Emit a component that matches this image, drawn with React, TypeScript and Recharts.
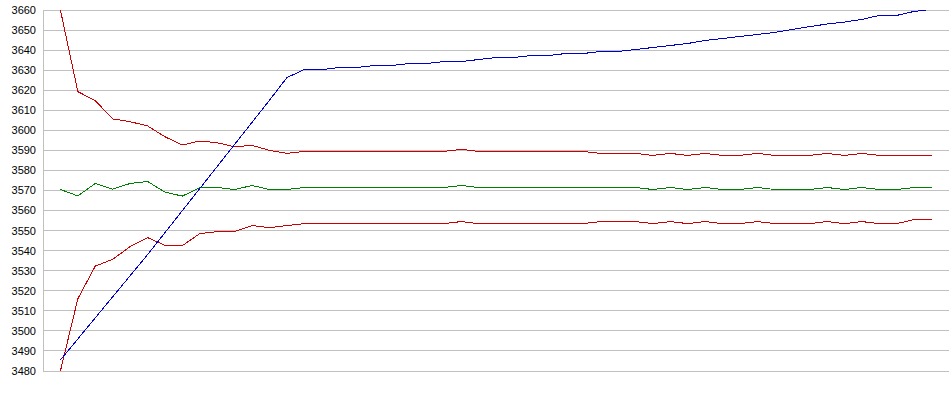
import { CartesianGrid, Line, LineChart, XAxis, YAxis } from "recharts";

// price series (blue) and bollinger-style bands
const price = [
  3485.5, 3496, 3506.5, 3517, 3527.5, 3538, 3549, 3560, 3571, 3582, 3593, 3604, 3615, 3626.3,
  3630.3, 3630.3, 3631.3, 3631.3, 3632.3, 3632.3, 3633.3, 3633.3, 3634.3, 3634.3, 3635.3,
  3636.3, 3636.3, 3637.3, 3637.3, 3638.3, 3638.3, 3639.3, 3639.3, 3640.3, 3641.3, 3642.3,
  3643.3, 3644.8, 3645.8, 3646.8, 3647.8, 3648.8, 3650.3, 3651.7, 3653, 3654, 3655.3, 3657.3,
  3657.3, 3659.3, 3660.3,
];

const upperBand = [
  3660, 3619.3, 3614.8, 3605.7, 3604.3, 3602.2, 3596.8, 3592.7, 3594.7, 3593.8, 3591.8, 3592.5,
  3590, 3588.5, 3589.5, 3589.5, 3589.5, 3589.5, 3589.5, 3589.5, 3589.5, 3589.5, 3589.5, 3590.5,
  3589.5, 3589.5, 3589.5, 3589.5, 3589.5, 3589.5, 3589.5, 3588.5, 3588.5, 3588.5, 3587.5,
  3588.5, 3587.5, 3588.5, 3587.5, 3587.5, 3588.5, 3587.5, 3587.5, 3587.5, 3588.5, 3587.5,
  3588.5, 3587.5, 3587.5, 3587.5, 3587.5,
];

const middleBand = [
  3570.5, 3567.3, 3573.5, 3570.7, 3573.5, 3574.5, 3569.2, 3567.2, 3571.5, 3571.5, 3570.5,
  3572.5, 3570.5, 3570.5, 3571.5, 3571.5, 3571.5, 3571.5, 3571.5, 3571.5, 3571.5, 3571.5,
  3571.5, 3572.5, 3571.5, 3571.5, 3571.5, 3571.5, 3571.5, 3571.5, 3571.5, 3571.5, 3571.5,
  3571.5, 3570.5, 3571.5, 3570.5, 3571.5, 3570.5, 3570.5, 3571.5, 3570.5, 3570.5, 3570.5,
  3571.5, 3570.5, 3571.5, 3570.5, 3570.5, 3571.5, 3571.5,
];

const lowerBand = [
  3480, 3516, 3532.3, 3535.7, 3542, 3546.5, 3542.7, 3542.5, 3548.5, 3549.5, 3549.5, 3552.5,
  3551.5, 3552.5, 3553.5, 3553.5, 3553.5, 3553.5, 3553.5, 3553.5, 3553.5, 3553.5, 3553.5,
  3554.5, 3553.5, 3553.5, 3553.5, 3553.5, 3553.5, 3553.5, 3553.5, 3554.5, 3554.5, 3554.5,
  3553.5, 3554.5, 3553.5, 3554.5, 3553.5, 3553.5, 3554.5, 3553.5, 3553.5, 3553.5, 3554.5,
  3553.5, 3554.5, 3553.5, 3553.5, 3555.5, 3555.5,
];

const yTicks = [
  3480, 3490, 3500, 3510, 3520, 3530, 3540, 3550, 3560, 3570, 3580, 3590, 3600, 3610, 3620,
  3630, 3640, 3650, 3660,
];

const data = price.map((p, i) => ({
  i,
  price: p,
  upper: upperBand[i],
  middle: middleBand[i],
  lower: lowerBand[i],
}));

const App = () => (
  <div style={{ position: "absolute", left: 0, top: 0, width: 950, height: 395, background: "#fff" }}>
    <LineChart
      width={950}
      height={395}
      data={data}
      margin={{ top: 10, right: 1, bottom: 24, left: 0 }}
      style={{ shapeRendering: "crispEdges" }}
    >
      <CartesianGrid vertical={false} stroke="#c0c0c0" />
      <XAxis dataKey="i" type="number" domain={[-1, 51]} hide />
      <YAxis
        width={43}
        domain={[3480, 3660]}
        ticks={yTicks}
        allowDataOverflow
        interval={0}
        axisLine={{ stroke: "#c0c0c0" }}
        tickLine={false}
        tickSize={5}
        tickMargin={2}
        tick={{ fill: "#000", fontSize: 11, fontFamily: "Liberation Sans, Arial, sans-serif" }}
      />
      <Line dataKey="upper" stroke="#cc0000" strokeWidth={1} dot={false} isAnimationActive={false} />
      <Line dataKey="lower" stroke="#cc0000" strokeWidth={1} dot={false} isAnimationActive={false} />
      <Line dataKey="middle" stroke="#008000" strokeWidth={1} dot={false} isAnimationActive={false} />
      <Line dataKey="price" stroke="#0000cc" strokeWidth={1} dot={false} isAnimationActive={false} />
    </LineChart>
  </div>
);

export default App;
